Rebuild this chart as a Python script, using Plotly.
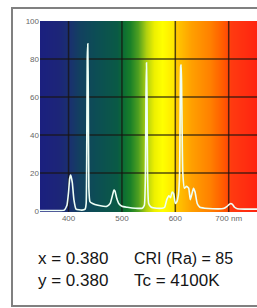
import plotly.graph_objects as go

# Spectrum (relative intensity vs wavelength, nm)
wavelength_nm = [346, 380, 392, 397, 400, 402, 404, 407, 410, 414, 425, 431, 433, 434, 435, 436, 437, 438,
                 440, 445, 455, 465, 472, 478, 482, 485, 487, 490, 494, 500, 510, 525, 538, 542, 544, 545,
                 546, 547, 548, 550, 555, 565, 575, 580, 584, 588, 591, 594, 597, 600, 603, 606, 608, 609,
                 610, 611, 612, 614, 617, 621, 625, 628, 631, 634, 637, 641, 646, 655, 670, 690, 697, 701,
                 704, 707, 711, 716, 730, 753]
intensity = [0.3, 0.3, 0.5, 3, 10, 17, 19, 15, 6, 1, 0.5, 1, 4, 30, 80, 88, 60, 12,
             5, 4, 3, 2.5, 2.5, 4, 8, 11, 10.5, 7, 4, 2.5, 2, 1.5, 1.5, 3, 20, 60,
             78, 60, 20, 4, 2, 1.5, 1.5, 2, 6, 8, 7, 10, 9, 4, 5, 9, 20, 50,
             76, 77, 60, 20, 12, 13, 12, 6, 9, 12, 10, 4, 2, 1.5, 1.2, 1.3, 2.5, 3.5,
             4, 3.5, 2, 1.2, 1, 1]

# Visible-spectrum background
band_nm = [340, 380, 400, 420, 450, 490, 500, 515, 530, 545, 560, 575, 595, 602, 630, 665, 690, 705, 760]
band_colors = ['#1b1f80', '#1c2578', '#1a3070', '#124060', '#0c4d55', '#0a5a45', '#0a6a35', '#1a8028',
               '#50a020', '#b0d010', '#eef000', '#ffff00', '#ffe800', '#ffc800', '#ffa000', '#ff8000',
               '#ff5a00', '#ff3a10', '#ff2010']

x_ticks = [400, 500, 600, 700]
x_ticktext = ['400', '500', '600', '700 nm']
y_ticks = [0, 20, 40, 60, 80, 100]
grid_y = [20, 40, 60, 80]

# Lamp data text: (row, column, text, font size)
info_texts = [
    (0, 0, 'x = 0.380', 17),
    (0, 1, 'CRI (Ra) = 85', 16),
    (1, 0, 'y = 0.380', 17),
    (1, 1, 'Tc = 4100K', 17),
]

lo, hi = band_nm[0], band_nm[-1]
colorscale = [[(w - lo) / (hi - lo), c] for w, c in zip(band_nm, band_colors)]

fig = go.Figure()
fig.add_trace(go.Heatmap(x=band_nm, y=[-5, 105], z=[band_nm, band_nm], colorscale=colorscale,
                         zmin=lo, zmax=hi, zsmooth='best', showscale=False, hoverinfo='skip'))

gx, gy = [], []
for t in x_ticks:
    gx += [t, t, None]
    gy += [-5, 105, None]
for t in grid_y:
    gx += [lo, hi, None]
    gy += [t, t, None]
fig.add_trace(go.Scatter(x=gx, y=gy, mode='lines', line=dict(color='rgba(25,20,15,0.75)', width=1.5),
                         hoverinfo='skip', showlegend=False))

fig.add_trace(go.Scatter(x=wavelength_nm, y=intensity, mode='lines',
                         line=dict(color='#eefff6', width=1.6, shape='spline', smoothing=0.4),
                         showlegend=False))

tick_family = 'Liberation Sans, Arial, sans-serif'
fig.update_xaxes(range=[346.5, 753], tickvals=x_ticks, ticktext=x_ticktext, showgrid=False,
                 zeroline=False, showline=False, ticks='',
                 tickfont=dict(size=8, color='#666666', family=tick_family))
fig.update_yaxes(range=[-0.5, 100], tickvals=y_ticks, showgrid=False, zeroline=False, showline=False,
                 ticks='', tickfont=dict(size=8, color='#666666', family=tick_family))

L, W, T, H = 40, 217, 21, 191
row_y = [258, 280]
col_x = [36, 132]
for row, col, t, sz in info_texts:
    fig.add_annotation(x=(col_x[col] - L) / W, y=1 - (row_y[row] - T) / H, xref='paper', yref='paper',
                       text=t, showarrow=False, xanchor='left', yanchor='middle',
                       font=dict(size=sz, color='#151515', family='Liberation Sans, Arial, sans-serif'))

fig.add_shape(type='rect', xref='paper', yref='paper', x0=-0.129, x1=1.2, y0=-0.492, y1=1.068,
              line=dict(color='#808080', width=2), layer='below')

fig.update_layout(width=257, height=308, margin=dict(l=L, r=0, t=T, b=308 - T - H),
                  paper_bgcolor='white', plot_bgcolor='white', showlegend=False)

fig.write_html('out.html', config={'displayModeBar': False},
               post_script="document.body.style.margin='0';document.body.style.overflow='hidden';")
